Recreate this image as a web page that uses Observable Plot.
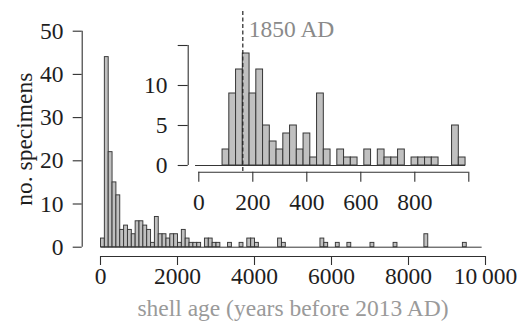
<!DOCTYPE html>
<html><head><meta charset="utf-8">
<script src="https://cdn.jsdelivr.net/npm/d3@7"></script>
<script src="https://cdn.jsdelivr.net/npm/@observablehq/plot@0.6"></script>
<style>
html,body{margin:0;padding:0;background:#fff;}
#chart{position:relative;width:520px;height:324px;overflow:hidden;background:#fff;}
#chart svg{position:absolute;left:0;top:0;}
</style></head><body><div id="chart"></div>
<script>
// ---- data ----
// main histogram: 100-year bins starting at 13 years before 2013 AD
const mainBreakStart = 13;
const mainBinWidth = 100;
const mainCounts = [
  2,44,22,15,12,4,5,4,3,6,
  6,5,4,1,7,3,3,2,3,3,
  1,4,2,1,1,1,0,2,2,1,
  1,0,0,1,0,0,1,0,2,2,
  1,0,0,0,0,0,2,1,0,0,
  0,0,0,0,0,0,0,2,1,0,
  0,1,0,0,1,0,0,0,0,0,
  1,0,0,0,0,0,1,0,0,0,
  0,0,0,0,3,0,0,0,0,0,
  0,0,0,0,1,0,0,0,0
];
// inset histogram: 25-year bins
const insetBreakStart = -12;
const insetBinWidth = 25;
const insetCounts = [
  0,0,0,0,2,9,12,14,9,12,
  5,3,2,4,5,2,4,1,9,2,
  0,2,1,1,0,2,0,2,1,1,
  2,0,1,1,1,1,0,0,5,1
];
const mainXTicks = [0,2000,4000,6000,8000,10000];
const mainXTickLabels = ["0","2000","4000","6000","8000","10\u2009000"];
const mainYTicks = [0,10,20,30,40,50];
const mainYTickLabels = ["0","10","20","30","40","50"];
const insetXTicks = [0,200,400,600,800,1000];
const insetXTickLabels = ["0","200","400","600","800",""];
const insetYTicks = [0,5,10,15];
const insetYTickLabels = ["0","5","10",""];
const markerYear = [163];
const markerLabel = ["1850 AD"];
const xTitle = ["shell age (years before 2013 AD)"];
const yTitle = ["no. specimens"];

// ---- build tables ----
const mainBins = mainCounts.map((c,i)=>({x1: mainBreakStart + i*mainBinWidth, x2: mainBreakStart + (i+1)*mainBinWidth, count: c}));
const insetBins = insetCounts.map((c,i)=>({x1: insetBreakStart + i*insetBinWidth, x2: insetBreakStart + (i+1)*insetBinWidth, count: c}));

const FONT = "'Liberation Serif','Times New Roman',serif";
const INK = "#1e1e1e";
const AX = "#303030";
const BAR_FILL = "#c0c0c0";
const BAR_STROKE = "#363636";
const FS = 23.5;
const T = {fontFamily: FONT, fontSize: FS};

const main = Plot.plot({
  width: 520, height: 324,
  marginLeft: 100, marginRight: 35, marginTop: 30.7, marginBottom: 77.3,
  style: {background: "transparent", fontFamily: FONT, overflow: "visible"},
  x: {domain: [0, 10000], axis: null},
  y: {domain: [0, 50], axis: null},
  marks: [
    Plot.ruleY([0], {x1: mainBins[0].x1, x2: mainBins[mainBins.length-1].x2, stroke: BAR_STROKE, strokeWidth: 1}),
    Plot.rect(mainBins.filter(d => d.count > 0), {x1: "x1", x2: "x2", y1: 0, y2: "count", fill: BAR_FILL, stroke: BAR_STROKE, strokeWidth: 0.95}),
    // x axis
    Plot.ruleY([0], {dy: 9.3, stroke: AX, strokeWidth: 1.1}),
    Plot.ruleX(mainXTicks, {x: d => d, y1: 0, y2: 0, insetBottom: -9, dy: 9.3, stroke: AX, strokeWidth: 1.1}),
    Plot.text(mainXTicks, {...T, x: d => d, y: 0, text: (d, i) => mainXTickLabels[i], lineAnchor: "middle", dy: 29.3, fill: INK}),
    Plot.text(xTitle, {...T, frameAnchor: "bottom", text: d => d, textAnchor: "middle", lineAnchor: "middle", dy: 61.5, fill: "#9a9a9a"}),
    // y axis
    Plot.ruleX([0], {dx: -18.3, stroke: AX, strokeWidth: 1.1}),
    Plot.ruleY(mainYTicks, {y: d => d, x1: 0, x2: 0, insetLeft: -9, dx: -18.3, stroke: AX, strokeWidth: 1.1}),
    Plot.text(mainYTicks, {...T, frameAnchor: "left", y: d => d, text: (d, i) => mainYTickLabels[i], textAnchor: "end", lineAnchor: "middle", dx: -37, fill: INK}),
    Plot.text(yTitle, {...T, frameAnchor: "left", text: d => d, rotate: -90, textAnchor: "middle", lineAnchor: "middle", dx: -76, fill: INK})
  ]
});

const inset = Plot.plot({
  width: 520, height: 324,
  marginLeft: 198.3, marginRight: 51.7, marginTop: 45, marginBottom: 159,
  style: {background: "transparent", fontFamily: FONT, overflow: "visible"},
  x: {domain: [0, 1000], axis: null},
  y: {domain: [0, 15], axis: null},
  marks: [
    Plot.ruleY([0], {x1: insetBins[0].x1, x2: insetBins[insetBins.length-1].x2, stroke: BAR_STROKE, strokeWidth: 1}),
    Plot.rect(insetBins.filter(d => d.count > 0), {x1: "x1", x2: "x2", y1: 0, y2: "count", fill: BAR_FILL, stroke: BAR_STROKE, strokeWidth: 1}),
    // x axis
    Plot.ruleY([0], {dy: 6.7, stroke: AX, strokeWidth: 1.1}),
    Plot.ruleX(insetXTicks, {x: d => d, y1: 0, y2: 0, insetBottom: -10, dy: 6.7, stroke: AX, strokeWidth: 1.1}),
    Plot.text(insetXTicks, {...T, x: d => d, y: 0, text: (d, i) => insetXTickLabels[i], lineAnchor: "middle", dy: 36.7, fill: INK}),
    // y axis
    Plot.ruleX([0], {dx: -10.6, stroke: AX, strokeWidth: 1.1}),
    Plot.ruleY(insetYTicks, {y: d => d, x1: 0, x2: 0, insetLeft: -10, dx: -10.6, stroke: AX, strokeWidth: 1.1}),
    Plot.text(insetYTicks, {...T, frameAnchor: "left", y: d => d, text: (d, i) => insetYTickLabels[i], textAnchor: "end", lineAnchor: "middle", dx: -31.3, fill: INK}),
    // 1850 AD marker
    Plot.ruleX(markerYear, {x: d => d, insetTop: -34, insetBottom: -7, stroke: "#222", strokeWidth: 1.2, strokeDasharray: "4,2.5"}),
    Plot.text(markerYear, {...T, x: d => d, frameAnchor: "top", text: (d, i) => markerLabel[i], textAnchor: "start", lineAnchor: "middle", dx: 6, dy: -16, fill: "#8a8a8a"})
  ]
});

const root = document.getElementById("chart");
root.appendChild(main);
root.appendChild(inset);
</script>
</body></html>
